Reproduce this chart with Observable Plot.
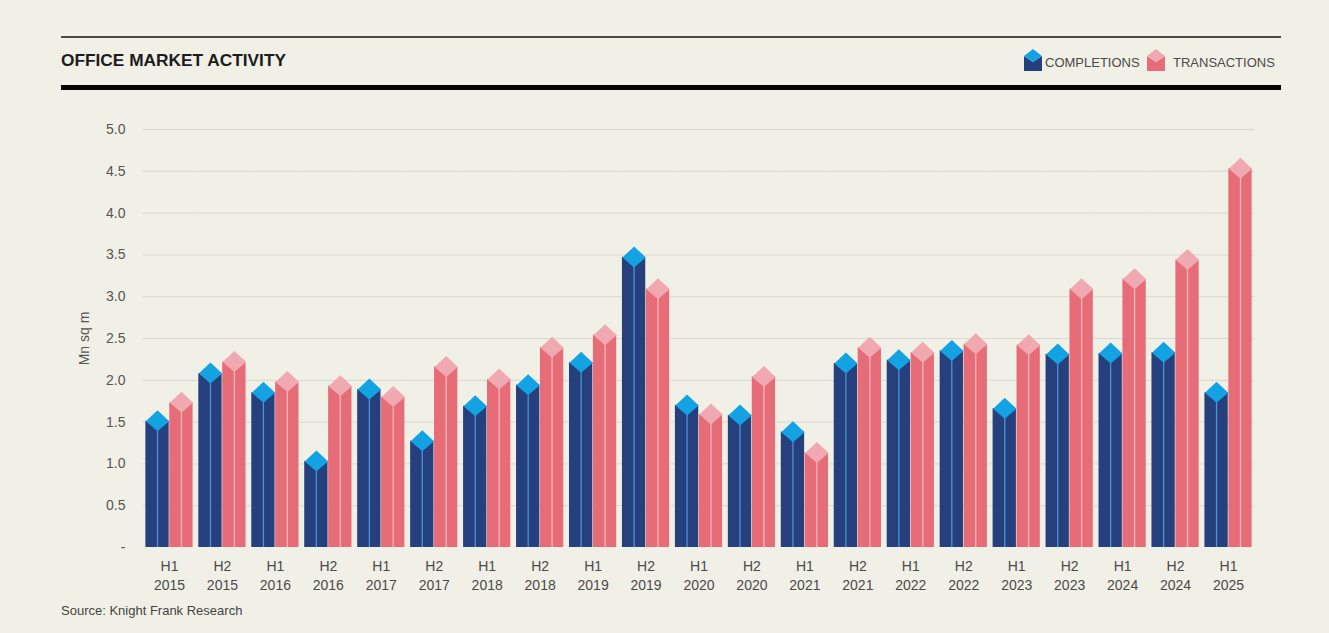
<!DOCTYPE html>
<html>
<head>
<meta charset="utf-8">
<script src="https://cdn.jsdelivr.net/npm/d3@7"></script>
<script src="https://cdn.jsdelivr.net/npm/@observablehq/plot@0.6"></script>
<style>
  html, body { margin: 0; padding: 0; background: #f1f0e6; }
  #page { position: relative; width: 1329px; height: 633px; overflow: hidden; background: #f1f0e6;
          font-family: "Liberation Sans", Arial, sans-serif; }
  .thin { position: absolute; left: 61px; top: 35.5px; width: 1220px; height: 2px; background: #4b4b4b; }
  .thick { position: absolute; left: 61px; top: 84.5px; width: 1220px; height: 5.5px; background: #060606; }
  #title { position: absolute; left: 61px; top: 49px; font-weight: bold; font-size: 17.3px; line-height: 22px; color: #1c1c1c; white-space: nowrap; }
  .lg-icon { position: absolute; top: 49px; }
  .lg-text { position: absolute; top: 54.5px; font-size: 13px; line-height: 16px; color: #4a4a4a; white-space: nowrap; }
  #chart { position: absolute; left: 0; top: 100px; }
  #source { position: absolute; left: 61px; top: 603px; font-size: 13px; line-height: 15px; color: #444; white-space: nowrap; }
</style>
</head>
<body>
<div id="page">
  <div class="thin"></div>
  <div id="title">OFFICE MARKET ACTIVITY</div>
  <svg class="lg-icon" style="left:1024px" width="18" height="22" viewBox="0 0 18 22">
    <polygon points="0,7 9,13 18,7 18,22 0,22" fill="#263f7d"/>
    <polygon points="9,0 18,7 9,13 0,7" fill="#14a3e2"/>
  </svg>
  <div class="lg-text" style="left:1045px">COMPLETIONS</div>
  <svg class="lg-icon" style="left:1147px" width="18" height="22" viewBox="0 0 18 22">
    <polygon points="0,7 9,13 18,7 18,22 0,22" fill="#e66c77"/>
    <polygon points="9,0 18,7 9,13 0,7" fill="#f1a9b1"/>
  </svg>
  <div class="lg-text" style="left:1173px">TRANSACTIONS</div>
  <div class="thick"></div>
  <div id="chart"></div>
  <div id="source">Source: Knight Frank Research</div>
</div>
<script>
const periods = ["H1 2015","H2 2015","H1 2016","H2 2016","H1 2017","H2 2017","H1 2018","H2 2018","H1 2019","H2 2019",
  "H1 2020","H2 2020","H1 2021","H2 2021","H1 2022","H2 2022","H1 2023","H2 2023","H1 2024","H2 2024","H1 2025"];
const seriesNames = ["COMPLETIONS", "TRANSACTIONS"];
const completions = [1.51, 2.08, 1.85, 1.03, 1.89, 1.27, 1.69, 1.94, 2.21, 3.47, 1.70, 1.58, 1.38, 2.20, 2.24, 2.35, 1.66, 2.31, 2.32, 2.33, 1.85];
const transactions = [1.73, 2.22, 1.98, 1.93, 1.80, 2.16, 2.01, 2.39, 2.54, 3.09, 1.59, 2.04, 1.13, 2.39, 2.33, 2.43, 2.42, 3.09, 3.21, 3.44, 4.53];
const yTicks = [0, 0.5, 1, 1.5, 2, 2.5, 3, 3.5, 4, 4.5, 5];

const rows = periods.flatMap((p, i) => [
  {period: p, series: seriesNames[0], value: completions[i]},
  {period: p, series: seriesNames[1], value: transactions[i]}
]);
const compRows = rows.filter(d => d.series === seriesNames[0]);
const tranRows = rows.filter(d => d.series === seriesNames[1]);

// isometric top face of each prism bar
const diamond = {
  draw(ctx) {
    ctx.moveTo(0, -11);
    ctx.lineTo(11.7, 0);
    ctx.lineTo(0, 10);
    ctx.lineTo(-11.7, 0);
    ctx.closePath();
  }
};

const chart = Plot.plot({
  width: 1329,
  height: 500,
  marginLeft: 142.5,
  marginRight: 74.5,
  marginTop: 29,
  marginBottom: 53,
  style: {background: "transparent", fontFamily: "'Liberation Sans', Arial, sans-serif"},
  fx: {domain: periods, padding: 0, round: false, label: null},
  x: {domain: seriesNames, paddingInner: 0.025, paddingOuter: 0.12, round: false, axis: null},
  y: {domain: [0, 5]},
  marks: [
    Plot.gridY({ticks: yTicks.filter(t => t > 0), stroke: "#d9d7cf", strokeOpacity: 1, strokeWidth: 1}),
    Plot.axisY({ticks: yTicks, tickSize: 0, tickPadding: 17.5, fontSize: 14, fill: "#555",
      tickFormat: d => d === 0 ? "-" : d3.format(".1f")(d),
      label: "Mn sq m", labelAnchor: "center", labelOffset: 64, labelArrow: "none"}),
    Plot.axisFx({anchor: "bottom", tickSize: 0, tickPadding: 11, fontSize: 14, lineHeight: 1.3, fill: "#4a4a4a",
      tickFormat: d => d.replace(" ", "\n"), label: null}),
    Plot.barY(compRows, {fx: "period", x: "series", y: "value", fill: "#263f7d"}),
    Plot.barY(tranRows, {fx: "period", x: "series", y: "value", fill: "#e66c77"}),
    Plot.ruleX(compRows, {fx: "period", x: "series", y1: 0, y2: "value", stroke: "#4a93d8", strokeWidth: 1.3}),
    Plot.ruleX(tranRows, {fx: "period", x: "series", y1: 0, y2: "value", stroke: "#f4b5ba", strokeWidth: 1.3}),
    Plot.dot(compRows, {fx: "period", x: "series", y: "value", symbol: diamond, fill: "#14a3e2", stroke: "none"}),
    Plot.dot(tranRows, {fx: "period", x: "series", y: "value", symbol: diamond, fill: "#f1a9b1", stroke: "none"})
  ]
});
document.getElementById("chart").appendChild(chart);
</script>
</body>
</html>
